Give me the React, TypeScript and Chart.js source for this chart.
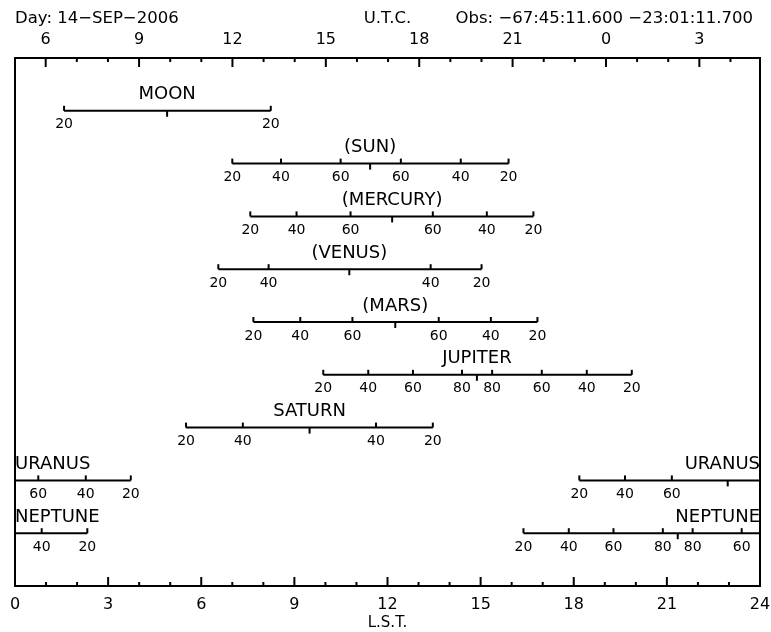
import React, { useEffect, useRef } from 'react';
import { Chart, registerables } from 'chart.js';

Chart.register(...registerables);

// ---- Data (LST hours) ----
const objectNames = ['MOON', '(SUN)', '(MERCURY)', '(VENUS)', '(MARS)', 'JUPITER', 'SATURN', 'URANUS', 'NEPTUNE'];
const rowSlots = [1, 2, 3, 4, 5, 6, 7, 8, 9];
const elevationLevels = ['20', '40', '60', '80'];
// rising crossings of 20°, 40°, 60°, 80° elevation
const riseLST = [
  [1.58],
  [7.0, 8.57, 10.49],
  [7.58, 9.07, 10.81],
  [6.55, 8.17],
  [7.68, 9.19, 10.87],
  [9.93, 11.38, 12.82, 14.4],
  [5.51, 7.34],
  [18.18, 19.65, 21.16],
  [16.38, 17.84, 19.28, 20.87],
];
const transitLST = [4.9, 11.44, 12.15, 10.77, 12.25, 14.88, 9.49, 22.96, 21.35];
// setting crossings (time order: highest elevation first)
const setLST = [
  [8.24],
  [12.43, 14.36, 15.9],
  [13.46, 15.2, 16.7],
  [13.39, 15.03],
  [13.65, 15.33, 16.83],
  [15.37, 16.97, 18.42, 19.87],
  [11.63, 13.46],
  [24.75, 26.28, 27.73],
  [21.83, 23.41, 24.86, 26.33],
];
const lstTickValues = [0, 3, 6, 9, 12, 15, 18, 21, 24];
const utcTickValues = [6, 9, 12, 15, 18, 21, 24, 27];
const utcAtLst0 = 5.014;
const siderealRate = 1.0027379;

const headerDay = 'Day: 14−SEP−2006';
const headerUtc = 'U.T.C.';
const headerObs = 'Obs: −67:45:11.600 −23:01:11.700';

const FONT = '"DejaVu Sans", "Liberation Sans", Arial, sans-serif';

function buildSegments() {
  const ds: any[] = [];
  objectNames.forEach((_, i) => {
    const row = rowSlots[i];
    const start = riseLST[i][0];
    const end = setLST[i][setLST[i].length - 1];
    const segs = end > 24 ? [[start, 24], [0, end - 24]] : [[start, end]];
    segs.forEach(([a, b]) => {
      ds.push({
        data: [
          { x: a, y: row },
          { x: b, y: row },
        ],
        showLine: true,
        borderColor: '#000',
        borderWidth: 2,
        pointRadius: 0,
        borderCapStyle: 'butt',
      });
    });
  });
  return ds;
}

const astroPlugin = {
  id: 'astroPlugin',
  afterDatasetsDraw(chart: any) {
    const ctx = chart.ctx;
    const xs = chart.scales.x;
    const ys = chart.scales.y;
    const { left, right } = chart.chartArea;
    const wrap = (t: number) => (t >= 24 ? t - 24 : t < 0 ? t + 24 : t);
    ctx.save();
    ctx.strokeStyle = '#000';
    ctx.fillStyle = '#000';
    ctx.lineWidth = 2;
    objectNames.forEach((name, i) => {
      const y = ys.getPixelForValue(rowSlots[i]);
      const up = (t: number, label: string) => {
        const x = xs.getPixelForValue(wrap(t));
        ctx.beginPath();
        ctx.moveTo(x, y);
        ctx.lineTo(x, y - 5);
        ctx.stroke();
        ctx.font = `14px ${FONT}`;
        ctx.textAlign = 'center';
        ctx.textBaseline = 'middle';
        ctx.fillText(label, x, y + 14);
      };
      riseLST[i].forEach((t, k) => up(t, elevationLevels[k]));
      const n = setLST[i].length;
      setLST[i].forEach((t, k) => up(t, elevationLevels[n - 1 - k]));
      const xt = xs.getPixelForValue(wrap(transitLST[i]));
      ctx.beginPath();
      ctx.moveTo(xt, y);
      ctx.lineTo(xt, y + 6);
      ctx.stroke();

      ctx.font = `18px ${FONT}`;
      ctx.textBaseline = 'middle';
      const end = setLST[i][n - 1];
      if (end > 24) {
        ctx.textAlign = 'right';
        ctx.fillText(name, right, y - 16);
        ctx.textAlign = 'left';
        ctx.fillText(name, left, y - 16);
      } else {
        ctx.textAlign = 'center';
        ctx.fillText(name, xt, y - 16);
      }
    });
    ctx.restore();
  },
  afterDraw(chart: any) {
    const ctx = chart.ctx;
    const xs = chart.scales.x;
    const x2 = chart.scales.x2;
    const { left, right, top, bottom } = chart.chartArea;
    ctx.save();
    ctx.strokeStyle = '#000';
    ctx.lineWidth = 2;
    ctx.strokeRect(left, top, right - left, bottom - top);
    for (let h = 1; h < 24; h++) {
      const x = xs.getPixelForValue(h);
      const len = h % 3 === 0 ? 9 : 4;
      ctx.beginPath();
      ctx.moveTo(x, bottom);
      ctx.lineTo(x, bottom - len);
      ctx.stroke();
    }
    for (let u = Math.ceil(x2.min); u <= Math.floor(x2.max); u++) {
      const x = x2.getPixelForValue(u);
      if (x <= left + 1 || x >= right - 1) continue;
      const len = u % 3 === 0 ? 9 : 4;
      ctx.beginPath();
      ctx.moveTo(x, top);
      ctx.lineTo(x, top + len);
      ctx.stroke();
    }
    ctx.fillStyle = '#000';
    ctx.font = `16.5px ${FONT}`;
    ctx.textBaseline = 'middle';
    ctx.textAlign = 'left';
    ctx.fillText(headerDay, left, 19);
    ctx.textAlign = 'center';
    ctx.fillText(headerUtc, (left + right) / 2, 19);
    ctx.textAlign = 'right';
    ctx.fillText(headerObs, right - 7, 19);
    ctx.restore();
  },
};

export default function App() {
  const ref = useRef<HTMLCanvasElement | null>(null);
  useEffect(() => {
    if (!ref.current) return;
    const chart = new Chart(ref.current, {
      type: 'scatter',
      data: { datasets: buildSegments() },
      options: {
        responsive: false,
        animation: false,
        devicePixelRatio: 1,
        events: [],
        layout: { padding: { left: 15, right: 11, top: 0, bottom: 0 } },
        plugins: { legend: { display: false }, tooltip: { enabled: false }, title: { display: false } },
        scales: {
          x: {
            type: 'linear',
            position: 'bottom',
            min: 0,
            max: 24,
            afterBuildTicks: (s: any) => {
              s.ticks = lstTickValues.map((v) => ({ value: v }));
            },
            afterFit: (s: any) => {
              s.height = 46;
              s.paddingLeft = 0;
              s.paddingRight = 0;
            },
            grid: { display: false, drawTicks: false },
            border: { display: false },
            ticks: { color: '#000', padding: 9, maxRotation: 0, autoSkip: false, font: { family: FONT, size: 16 } },
            title: { display: true, text: 'L.S.T.', color: '#000', padding: 0, font: { family: FONT, size: 15 } },
          },
          x2: {
            type: 'linear',
            position: 'top',
            min: utcAtLst0,
            max: utcAtLst0 + 24 / siderealRate,
            afterBuildTicks: (s: any) => {
              s.ticks = utcTickValues.map((v) => ({ value: v }));
            },
            afterFit: (s: any) => {
              s.height = 58;
              s.paddingLeft = 0;
              s.paddingRight = 0;
            },
            grid: { display: false, drawTicks: false },
            border: { display: false },
            ticks: {
              color: '#000',
              padding: 9,
              maxRotation: 0,
              autoSkip: false,
              font: { family: FONT, size: 16 },
              callback: (v: any) => String(Number(v) % 24),
            },
          },
          y: {
            type: 'linear',
            min: 0,
            max: 10,
            reverse: true,
            display: false,
          },
        },
      } as any,
      plugins: [astroPlugin],
    });
    return () => chart.destroy();
  }, []);
  return (
    <div style={{ position: 'fixed', left: 0, top: 0, width: 771, height: 632, background: '#fff' }}>
      <canvas ref={ref} width={771} height={632} style={{ display: 'block' }} />
    </div>
  );
}
